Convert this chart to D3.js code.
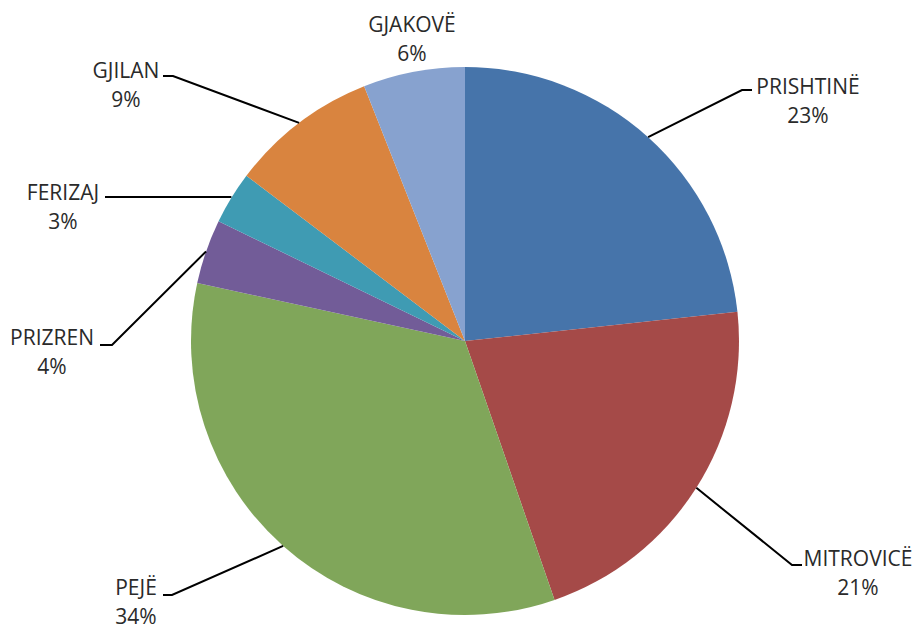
<!DOCTYPE html>
<html>
<head>
<meta charset="utf-8">
<script src="https://cdn.jsdelivr.net/npm/d3@7"></script>
<style>
  html, body { margin: 0; padding: 0; background: #fff; }
  svg { display: block; }
  text { font-family: "Open Sans", sans-serif; fill: #2a2a2a; }
</style>
</head>
<body>
<svg id="chart" width="921" height="629"></svg>
<script>
// ---- data ----
const categories = ["PRISHTINË", "MITROVICË", "PEJË", "PRIZREN", "FERIZAJ", "GJILAN", "GJAKOVË"];
const values     = [23.3, 21.4, 33.7, 3.8, 3.1, 8.7, 6.0];
const percentLabels = ["23%", "21%", "34%", "4%", "3%", "9%", "6%"];
const colors = ["#4674aa", "#a54a48", "#80a65a", "#725c98", "#3f9bb3", "#d9843f", "#87a2cf"];

// ---- label layout (annotation placement, not data) ----
// elbow: bend of leader line; stub: x where horizontal stub ends; tx: text centre x; ty: name baseline
const labelLayout = [
  { elbow: [742, 90],  stub: 752, tx: 808, ty: 94 },
  { elbow: [792, 565], stub: 802, tx: 858, ty: 566 },
  { elbow: [172, 595], stub: 163, tx: 136, ty: 595 },
  { elbow: [112, 345], stub: 100, tx: 52,  ty: 345 },
  { elbow: null,       stub: 105, tx: 63,  ty: 200, flat: 197 },
  { elbow: [173, 76],  stub: 163, tx: 126, ty: 78 },
  { elbow: null,       stub: null, tx: 412, ty: 32 }
];

const cx = 465, cy = 341, r = 274;
const svg = d3.select("#chart");
const g = svg.append("g").attr("transform", `translate(${cx},${cy})`);

const pie = d3.pie().sort(null).value(d => d.value);
const arcs = pie(categories.map((c, i) => ({ name: c, value: values[i], i })));
const arc = d3.arc().innerRadius(0).outerRadius(r);

g.selectAll("path.slice").data(arcs).enter().append("path")
  .attr("class", "slice")
  .attr("d", arc)
  .attr("fill", d => colors[d.data.i]);

// leader lines and labels
arcs.forEach(d => {
  const L = labelLayout[d.data.i];
  const mid = (d.startAngle + d.endAngle) / 2;
  const sx = cx + r * Math.sin(mid), sy = cy - r * Math.cos(mid);
  let pts = null;
  if (L.elbow) {
    pts = [[sx, sy], L.elbow, [L.stub, L.elbow[1]]];
  } else if (L.flat != null) {
    pts = [[sx, L.flat], [L.stub, L.flat]];
  }
  if (pts) {
    svg.append("path")
      .attr("d", d3.line()(pts))
      .attr("fill", "none")
      .attr("stroke", "#000")
      .attr("stroke-width", 2);
  }
  svg.append("text")
    .attr("x", L.tx).attr("y", L.ty)
    .attr("text-anchor", "middle")
    .attr("font-size", 21)
    .text(d.data.name);
  svg.append("text")
    .attr("x", L.tx).attr("y", L.ty + 29)
    .attr("text-anchor", "middle")
    .attr("font-size", 21)
    .text(percentLabels[d.data.i]);
});
</script>
</body>
</html>
